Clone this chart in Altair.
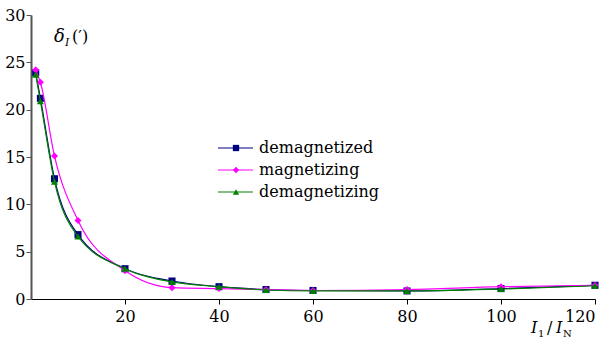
import altair as alt
import pandas as pd

x_vals = [1, 2, 5, 10, 20, 30, 40, 50, 60, 80, 100, 120]
demagnetized = [23.9, 21.2, 12.7, 6.8, 3.2, 1.9, 1.3, 1.0, 0.9, 0.85, 1.1, 1.45]
magnetizing = [24.2, 22.9, 15.1, 8.3, 3.0, 1.2, 1.1, 1.0, 0.9, 1.0, 1.3, 1.45]
demagnetizing = [23.7, 20.9, 12.4, 6.6, 3.2, 1.8, 1.3, 0.95, 0.85, 0.85, 1.05, 1.4]

series_names = ["demagnetized", "magnetizing", "demagnetizing"]
series_vals = [demagnetized, magnetizing, demagnetizing]
colors = ["#000080", "#FF00FF", "#008000"]
shapes = ["square", "diamond", "triangle-up"]
x_ticks = [20, 40, 60, 80, 100, 120]
y_ticks = [0, 5, 10, 15, 20, 25, 30]

FONT = "DejaVu Serif"

rows = []
for name, vals in zip(series_names, series_vals):
    for xv, yv in zip(x_vals, vals):
        rows.append({"series": name, "x": xv, "y": yv})
df = pd.DataFrame(rows)

xs = alt.Scale(domain=[0, 120], nice=False)
ys = alt.Scale(domain=[0, 30], nice=False)

xax = alt.Axis(values=x_ticks, title=None, grid=False, labelFont=FONT, labelFontSize=16,
               labelColor="black", domainColor="black", tickColor="black", tickSize=5,
               labelPadding=4)
yax = alt.Axis(values=y_ticks, title=None, grid=False, labelFont=FONT, labelFontSize=16,
               labelColor="black", domainColor="#555555", domainWidth=2, tickColor="#555555",
               tickSize=5, labelPadding=1)

X = alt.X("x:Q", scale=xs, axis=xax)
Y = alt.Y("y:Q", scale=ys, axis=yax)

layers = []
for i, (name, col, shp) in enumerate(zip(series_names, colors, shapes)):
    d = df[df.series == name]
    line = alt.Chart(d).mark_line(color=col, strokeWidth=1.2, interpolate="monotone").encode(x=X, y=Y)
    pts = alt.Chart(d).mark_point(shape=shp, filled=True, color=col, size=50, opacity=1).encode(x=X, y=Y)
    layers += [line, pts]

# Legend
for i, (name, col, shp) in enumerate(zip(series_names, colors, shapes)):
    yy = 133 + 22 * i
    one = pd.DataFrame({"series": [name]})
    layers.append(alt.Chart(one).mark_rule(color=col, strokeWidth=1.2).encode(
        x=alt.value(187), x2=alt.value(222), y=alt.value(yy)))
    layers.append(alt.Chart(one).mark_point(shape=shp, filled=True, color=col, size=40, opacity=1).encode(
        x=alt.value(205), y=alt.value(yy)))
    layers.append(alt.Chart(one).mark_text(align="left", baseline="middle", font=FONT, fontSize=16,
                                           color="black").encode(
        x=alt.value(228), y=alt.value(yy), text="series:N"))

def txt(s, x, y, size=16, italic=False):
    return alt.Chart(pd.DataFrame({"t": [s]})).mark_text(
        align="left", baseline="alphabetic", font=FONT, fontSize=size,
        fontStyle="italic" if italic else "normal", color="black").encode(
        x=alt.value(x), y=alt.value(y), text="t:N")

# y title: δ_I (′)
layers += [txt("δ", 23, 27, 18, True), txt("I", 34, 31, 11, True), txt("(′)", 41, 27, 16, False)]
# x title: I_1 / I_N
layers += [txt("I", 500, 318, 16, True), txt("1", 507, 322, 10), txt("/", 516, 318, 16),
           txt("I", 525, 318, 16, True), txt("N", 532, 322, 10)]

chart = alt.layer(*layers).properties(
    width=564, height=284,
    padding={"left": 31, "top": 15, "right": 14, "bottom": 40},
    autosize=alt.AutoSizeParams(type="none"),
    background="white",
).configure_view(stroke=None)

chart.save("out.html", embed_options={"renderer": "svg", "actions": False})
